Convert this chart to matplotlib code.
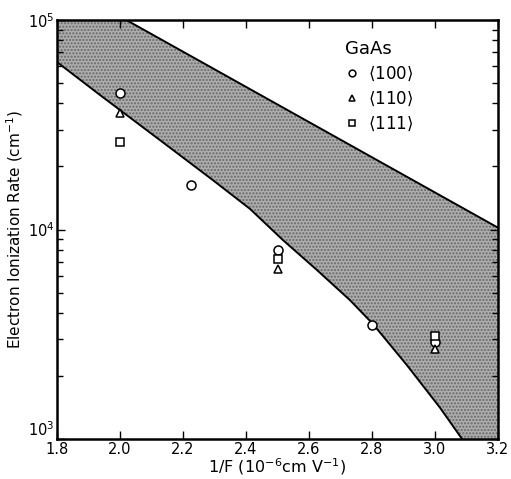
import numpy as np
import matplotlib.pyplot as plt
from matplotlib.ticker import LogLocator, NullFormatter, FixedLocator

# data: 1/F in 1e-6 cm/V, ionization rate in cm^-1
x100 = [2.0, 2.225, 2.5, 2.8, 3.0]
y100 = [4.5e4, 1.63e4, 8.0e3, 3.5e3, 2.9e3]

x110 = [2.0, 2.5, 3.0]
y110 = [3.6e4, 6.5e3, 2.7e3]

x111 = [2.0, 2.5, 3.0]
y111 = [2.62e4, 7.2e3, 3.1e3]

# edges of the shaded band
upper_x = [1.8, 2.02, 3.2]
upper_y = [1.0e5, 1.0e5, 1.02e4]
lower_x = [1.8, 1.937, 2.127, 2.295, 2.413, 2.517, 2.625, 2.730, 2.803, 2.911, 3.016, 3.086]
lower_y = [6.3e4, 4.38e4, 2.67e4, 1.72e4, 1.253e4, 8.91e3, 6.41e3, 4.6e3, 3.54e3,
           2.25e3, 1.41e3, 1.0e3]

plt.rcParams['font.family'] = 'DejaVu Sans'
fig = plt.figure(figsize=(5.11, 4.79), dpi=100)
ax = fig.add_axes([57/511, 40/479, 441/511, 419/479])

# shaded band
poly_x = list(upper_x) + [3.2] + lower_x[::-1]
poly_y = list(upper_y) + [1.0e3] + lower_y[::-1]
ax.fill(poly_x, poly_y, facecolor='#adadad', edgecolor='#666666', hatch='.....',
        linewidth=0, zorder=1)
ax.plot(upper_x, upper_y, color='black', lw=1.4, zorder=2)
ax.plot(lower_x, lower_y, color='black', lw=1.4, zorder=2)

mk = dict(linestyle='none', markerfacecolor='white', markeredgecolor='black',
          markeredgewidth=1.1, zorder=3)
ax.plot(x100, y100, marker='o', markersize=6.5, label='$\\langle$100$\\rangle$', **mk)
ax.plot(x110, y110, marker='^', markersize=6.0, label='$\\langle$110$\\rangle$', **mk)
ax.plot(x111, y111, marker='s', markersize=6.0, label='$\\langle$111$\\rangle$', **mk)

ax.set_yscale('log')
ax.set_xlim(1.8, 3.2)
ax.set_ylim(1e3, 1e5)
ax.xaxis.set_major_locator(FixedLocator(np.arange(1.8, 3.21, 0.2)))
ax.set_xticklabels(['1.8', '2.0', '2.2', '2.4', '2.6', '2.8', '3.0', '3.2'])
ax.yaxis.set_major_locator(FixedLocator([1e3, 1e4, 1e5]))
ax.set_yticklabels(['10$^3$', '10$^4$', '10$^5$'])
ax.yaxis.set_minor_locator(LogLocator(base=10, subs=np.arange(2, 10)))
ax.yaxis.set_minor_formatter(NullFormatter())

ax.tick_params(which='both', direction='in', top=True, right=True, labelsize=10.5,
               width=1.0)
ax.tick_params(which='major', length=6)
ax.tick_params(which='minor', length=4)
ax.tick_params(axis='x', which='major', pad=2)
ax.tick_params(axis='y', which='major', pad=2)
ax.get_yticklabels()[0].set_verticalalignment('bottom')
for s in ax.spines.values():
    s.set_linewidth(1.8)

ax.set_xlabel('1/F (10$^{-6}$cm V$^{-1}$)', fontsize=11.5, labelpad=0)
ax.set_ylabel('Electron Ionization Rate (cm$^{-1}$)', fontsize=11, labelpad=2)

leg = ax.legend(title='GaAs', loc='upper left', bbox_to_anchor=(0.652, 0.952),
                frameon=False, fontsize=12, title_fontsize=13, markerscale=0.75,
                handlelength=0.9, handletextpad=0.5, labelspacing=0.4,
                borderpad=0, borderaxespad=0)
leg._legend_box.align = 'left'

fig.savefig('out.png', dpi=100)
